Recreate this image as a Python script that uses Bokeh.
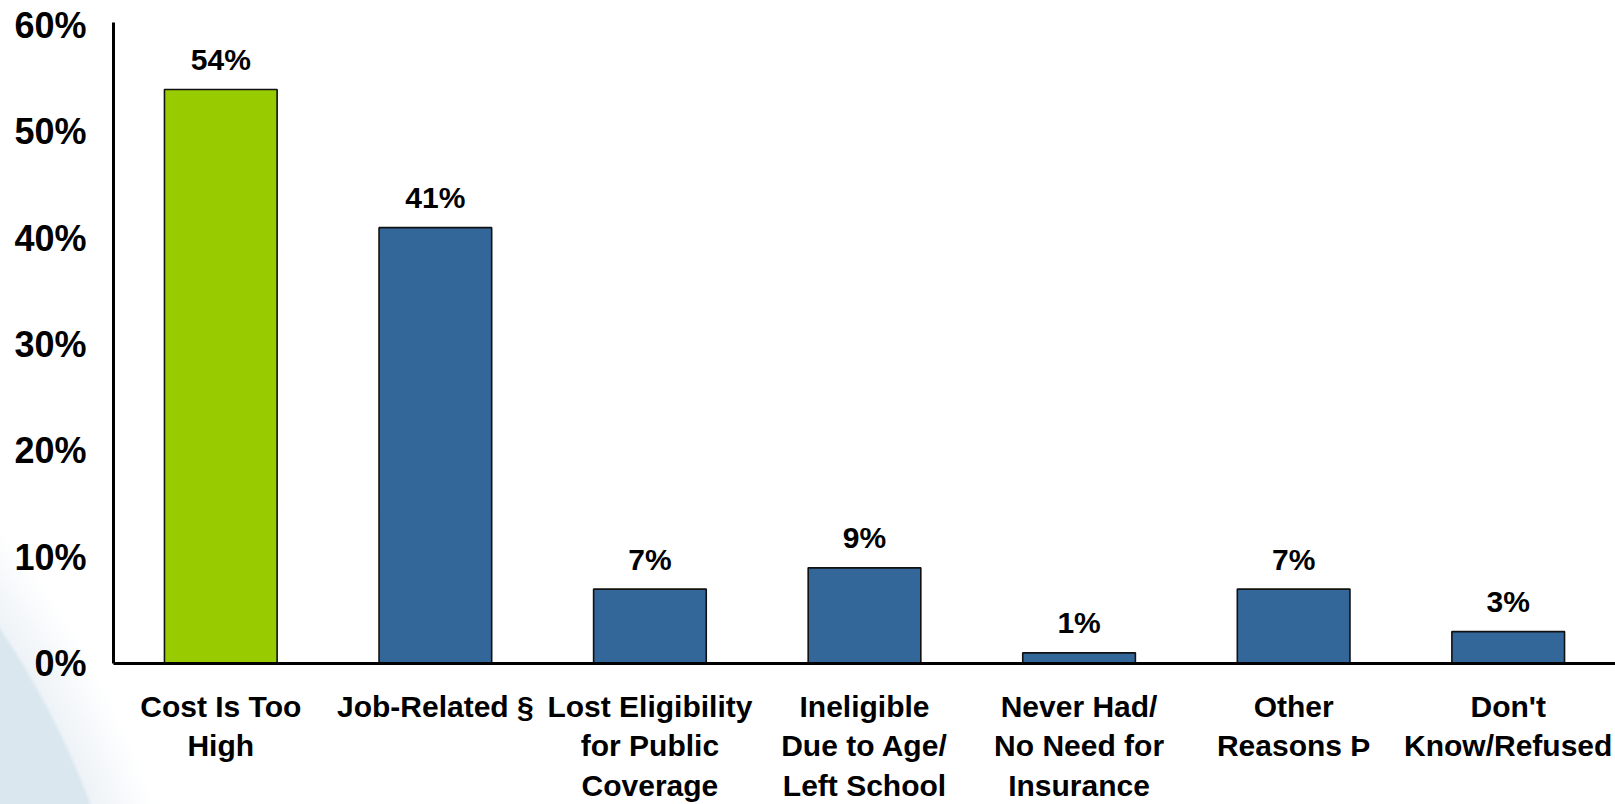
from bokeh.plotting import figure
from bokeh.models import FactorRange, Range1d, FixedTicker, PrintfTickFormatter, ColumnDataSource
from bokeh.core.properties import value
from bokeh.embed import file_html
from bokeh.resources import INLINE

# Reasons for being uninsured (share of respondents, %)
categories = [
    "Cost Is Too\nHigh",
    "Job-Related §",
    "Lost Eligibility\nfor Public\nCoverage",
    "Ineligible\nDue to Age/\nLeft School",
    "Never Had/\nNo Need for\nInsurance",
    "Other\nReasons Þ",
    "Don't\nKnow/Refused",
]
shares = [54, 41, 7, 9, 1, 7, 3]
share_labels = ["54%", "41%", "7%", "9%", "1%", "7%", "3%"]
y_ticks = [0, 10, 20, 30, 40, 50, 60]

GREEN = "#99CC00"
BLUE = "#336699"
FONT = "Liberation Sans"

colors = [GREEN] + [BLUE] * (len(categories) - 1)
source = ColumnDataSource(dict(cat=categories, share=shares, label=share_labels, color=colors))

p = figure(
    width=1615, height=804,
    x_range=FactorRange(*categories, range_padding=0),
    y_range=Range1d(0, 60.3),
    output_backend="svg", toolbar_location=None,
    min_border_left=113, min_border_right=0, min_border_top=22, min_border_bottom=141,
)
p.outline_line_color = None
p.grid.visible = False
p.background_fill_alpha = 0
p.border_fill_alpha = 0

# soft blue arc in the lower-left corner, painted behind the transparent canvas
p.styles = {
    "background-color": "#ffffff",
    "background-image": "radial-gradient(circle at -700px 1100px, #dbe7ef 0px, #dbe7ef 842px, "
                        "#eef3f7 846px, #ffffff 905px)",
}

p.vbar(x="cat", top="share", width=0.525, source=source,
       fill_color="color", line_color="#111111", line_width=1.6)

p.text(x="cat", y="share", text="label", source=source,
       text_font=value(FONT), text_font_style="bold", text_font_size="30px",
       text_align="center", text_baseline="alphabetic", y_offset=-30, text_color="#000000")

# y axis
p.yaxis.ticker = FixedTicker(ticks=y_ticks)
p.yaxis.formatter = PrintfTickFormatter(format="%d%%")
p.yaxis.major_tick_line_color = None
p.yaxis.minor_tick_line_color = None
p.yaxis.axis_line_width = 3
p.yaxis.axis_line_color = "#000000"
p.yaxis.major_label_text_font = FONT
p.yaxis.major_label_text_font_style = "bold"
p.yaxis.major_label_text_font_size = "36px"
p.yaxis.major_label_text_color = "#000000"
p.yaxis.major_label_standoff = 21

# x axis
p.xaxis.major_tick_line_color = None
p.xaxis.minor_tick_line_color = None
p.xaxis.axis_line_width = 3
p.xaxis.axis_line_color = "#000000"
p.xaxis.major_label_text_font = FONT
p.xaxis.major_label_text_font_style = "bold"
p.xaxis.major_label_text_font_size = "30px"
p.xaxis.major_label_text_color = "#000000"
p.xaxis.major_label_text_line_height = 1.2
p.xaxis.major_label_standoff = 20
p.xaxis.major_label_orientation = "horizontal"

open("out.html", "w").write(file_html(p, INLINE))
